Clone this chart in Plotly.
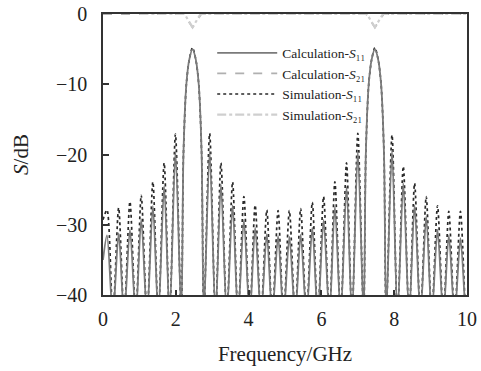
import plotly.graph_objects as go

# ---- data ----
freq_ghz = [
    0.00, 0.11, 0.27, 0.43, 0.58, 0.74, 0.90, 1.05, 1.21, 1.37, 1.52, 1.68, 1.83, 1.99,
    2.15, 2.21, 2.29, 2.37, 2.46, 2.55, 2.63, 2.71, 2.77,
    2.93, 3.09, 3.24, 3.40, 3.56, 3.71, 3.87, 4.03, 4.18, 4.34, 4.50, 4.65, 4.81, 4.96,
    5.12, 5.28, 5.43, 5.59, 5.75, 5.90, 6.06, 6.22, 6.37, 6.53, 6.69, 6.84, 7.00,
    7.16, 7.22, 7.30, 7.38, 7.47, 7.56, 7.64, 7.72, 7.78,
    7.94, 8.09, 8.25, 8.41, 8.56, 8.72, 8.88, 9.03, 9.19, 9.35, 9.50, 9.66, 9.82, 9.97, 10.00,
]
calc_s11_db = [
    -35.0, -31.5, -43, -31.2, -43, -30.7, -43, -29.2, -43, -27.3, -43, -24.5, -43, -19.6,
    -43, -20, -10, -6.5, -5.0, -6.5, -10, -20, -43,
    -19.6, -43, -24.3, -43, -27.2, -43, -29.3, -43, -30.4, -43, -31.3, -43, -31.6, -43,
    -31.7, -43, -31.4, -43, -30.4, -43, -29.3, -43, -27.4, -43, -24.6, -43, -19.6,
    -43, -20, -10, -6.5, -5.0, -6.5, -10, -20, -43,
    -19.4, -43, -24.1, -43, -27.2, -43, -28.8, -43, -30.7, -43, -31.5, -43, -31.9, -43, -41,
]
sim_s11_db = [
    -29.3, -27.9, -43, -27.6, -43, -26.7, -43, -25.8, -43, -23.9, -43, -21.2, -43, -17.1,
    -43, -20, -10, -6.5, -4.8, -6.5, -10, -20, -43,
    -17.0, -43, -21.2, -43, -23.9, -43, -26.0, -43, -27.2, -43, -27.9, -43, -28.0, -43,
    -28.0, -43, -27.7, -43, -26.8, -43, -26.0, -43, -23.9, -43, -21.2, -43, -17.0,
    -43, -20, -10, -6.5, -4.8, -6.5, -10, -20, -43,
    -17.2, -43, -21.7, -43, -24.1, -43, -26.0, -43, -27.3, -43, -28.1, -43, -28.1, -43, -41,
]
calc_s21_freq = [0.0, 2.22, 2.46, 2.70, 7.23, 7.47, 7.71, 10.0]
calc_s21_db = [0.0, 0.0, -1.9, 0.0, 0.0, -1.9, 0.0, 0.0]
sim_s21_freq = [1.0, 2.24, 2.46, 2.68, 7.25, 7.47, 7.69, 10.0]
sim_s21_db = [0.0, 0.0, -1.9, 0.0, 0.0, -1.9, 0.0, 0.0]

x_ticks = [0, 2, 4, 6, 8, 10]
y_ticks = [0, -10, -20, -30, -40]

FONT = "Liberation Serif, Times New Roman, serif"

calc_s11 = go.Scatter(
    x=freq_ghz, y=calc_s11_db, mode="lines", name="Calculation-<i>S</i>₁₁",
    legendrank=1,
    line=dict(color="#7a7a7a", width=1.8, shape="spline", smoothing=0.8),
)
calc_s21 = go.Scatter(
    x=calc_s21_freq, y=calc_s21_db, mode="lines", name="Calculation-<i>S</i>₂₁",
    legendrank=2,
    line=dict(color="#b0b0b0", width=1.8, dash="dash"),
)
sim_s11 = go.Scatter(
    x=freq_ghz, y=sim_s11_db, mode="lines", name="Simulation-<i>S</i>₁₁",
    legendrank=3,
    line=dict(color="#2a2a2a", width=1.7, dash="dot", shape="spline", smoothing=0.8),
)
sim_s21 = go.Scatter(
    x=sim_s21_freq, y=sim_s21_db, mode="lines", name="Simulation-<i>S</i>₂₁",
    legendrank=4,
    line=dict(color="#cfcfcf", width=2.2, dash="dashdot"),
)

fig = go.Figure([sim_s11, calc_s11, calc_s21, sim_s21])

fig.update_layout(
    width=481, height=371,
    margin=dict(l=103, r=14, t=14, b=76, autoexpand=False),
    paper_bgcolor="white", plot_bgcolor="white",
    font=dict(family=FONT, size=20, color="#222"),
    showlegend=True,
    legend=dict(
        x=0.30, y=0.916, xanchor="left", yanchor="top",
        bgcolor="rgba(0,0,0,0)", font=dict(family=FONT, size=13.5, color="#222"),
        itemwidth=60, tracegroupgap=0, traceorder="normal",
    ),
    xaxis=dict(
        range=[0, 10], tickvals=x_ticks, ticks="inside", ticklen=5, tickwidth=1.5,
        tickcolor="#333", showline=True, linecolor="#333", linewidth=1.6, mirror=True,
        showgrid=False, zeroline=False, ticklabelstandoff=5, automargin=False,
        title=dict(text="Frequency/GHz", font=dict(family=FONT, size=21), standoff=18),
    ),
    yaxis=dict(
        range=[-40, 0], tickvals=y_ticks, ticks="inside", ticklen=6, tickwidth=1.5,
        tickcolor="#333", showline=True, linecolor="#333", linewidth=1.6, mirror=True,
        showgrid=False, zeroline=False, ticklabelstandoff=10, automargin=False,
        title=dict(text="<i>S</i>/dB", font=dict(family=FONT, size=21), standoff=22),
    ),
)

fig.write_html("out.html")
